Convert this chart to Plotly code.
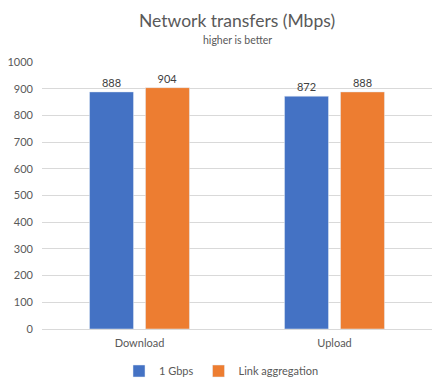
import plotly.graph_objects as go

categories = ["Download", "Upload"]
gbps_1 = [888, 872]
link_agg = [904, 888]
series_names = ["1 Gbps", "Link aggregation"]

FONT = "Lato, Calibri, Carlito, sans-serif"
TXT = "#595959"

fig = go.Figure()
fig.add_trace(go.Bar(x=categories, y=gbps_1, name=series_names[0], marker_color="#4472C4",
                     text=[str(v) for v in gbps_1], textposition="outside",
                     textfont=dict(size=11, color="#404040"), cliponaxis=False))
fig.add_trace(go.Bar(x=categories, y=link_agg, name=series_names[1], marker_color="#ED7D31",
                     text=[str(v) for v in link_agg], textposition="outside",
                     textfont=dict(size=11, color="#404040"), cliponaxis=False))

fig.update_layout(
    width=443, height=391,
    margin=dict(l=42, r=11, t=62, b=62, autoexpand=False),
    paper_bgcolor="white", plot_bgcolor="white",
    font=dict(family=FONT, color=TXT, size=11),
    barmode="group", bargap=0.426, bargroupgap=0.214,
    showlegend=True,
    legend=dict(orientation="h", x=0.5, xanchor="center", xref="container",
                y=1 - 371 / 391, yanchor="middle", yref="container",
                font=dict(size=11, color=TXT), itemwidth=30, tracegroupgap=0),
)
fig.add_annotation(text="Network transfers (Mbps)", xref="paper", yref="paper", x=0.5, y=1.0,
                   yshift=42, showarrow=False, font=dict(size=17.5, color=TXT), yanchor="middle")
fig.add_annotation(text="higher is better", xref="paper", yref="paper", x=0.5, y=1.0,
                   yshift=22, showarrow=False, font=dict(size=10.5, color=TXT), yanchor="middle")

fig.update_yaxes(range=[0, 1000], dtick=100, showgrid=True, gridcolor="#D9D9D9", gridwidth=1,
                 zeroline=False, showline=False, ticks="", tickfont=dict(size=11, color=TXT),
                 ticklabelstandoff=8, automargin=False)
fig.update_xaxes(showline=True, linecolor="#D9D9D9", linewidth=1, ticks="",
                 tickfont=dict(size=11, color=TXT), automargin=False, ticklabelstandoff=4)

fig.write_html("out.html", config={"displayModeBar": False},
               post_script="document.body.style.margin='0';")
